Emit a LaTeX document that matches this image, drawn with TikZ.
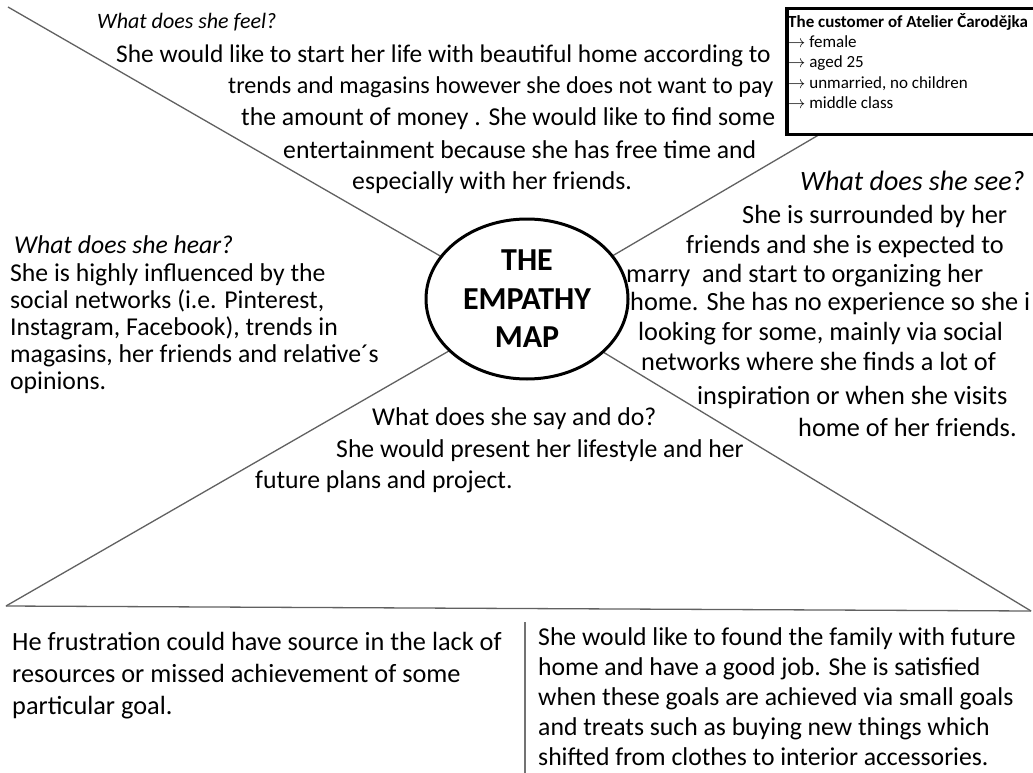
\documentclass[tikz,border=0pt]{standalone}
\usepackage{fontspec}
\setmainfont{Carlito}
\usetikzlibrary{shapes.geometric}
\newcommand\bodyfs{\fontsize{25.7}{30}\selectfont}
\newcommand\seefs{\fontsize{26.3}{30}\selectfont}
\newcommand\painfs{\fontsize{26.3}{30}\selectfont}
\newcommand\boxfs{\fontsize{17}{20}\selectfont}
\newcommand\mapfs{\fontsize{32}{38.5}\selectfont}
\begin{document}
\begin{tikzpicture}[x=1pt,y=-1pt,
  txt/.style={anchor=base west,inner sep=0pt,font=\bodyfs},
  ital/.style={anchor=base west,inner sep=0pt,font=\bodyfs\itshape},
  bx/.style={anchor=base west,inner sep=0pt,font=\boxfs},
  conn/.style={draw=black!62,line width=1.3pt}]
\useasboundingbox (0,0) rectangle (1033,773);
\clip (0,0) rectangle (1033,773);
\fill[white] (0,0) rectangle (1033,773);
% coordinates
\coordinate (hub) at (527,306);
\coordinate (tl) at (8,7);
\coordinate (tr) at (822,133);
\coordinate (bl) at (6,606);
\coordinate (br) at (1031,611);
\coordinate (vt) at (525,622);
\coordinate (vb) at (525,773);
% connectors
\draw[conn] (hub) -- (tl);
\draw[conn] (hub) -- (tr);
\draw[conn] (hub) -- (bl);
\draw[conn] (hub) -- (br);
\draw[conn] (bl) -- (br);
\draw[draw=black!55,line width=1.8pt] (vt) -- (vb);
% centre ellipse
\node[ellipse,draw,line width=3pt,fill=white,minimum width=202,minimum height=160,inner sep=0pt,
  font=\mapfs\bfseries,align=center] (em) at (527,299) {THE\\EMPATHY\\MAP};
% customer box
\node[draw,line width=3.5pt,fill=white,anchor=north west,minimum width=280,minimum height=126,inner sep=0pt] (cust) at (785,7) {};
\node[anchor=base west,inner sep=0pt,font=\fontsize{17}{20}\selectfont\bfseries] (c0) at (788,28) {The customer of Atelier Čarodějka};
\node[bx] (c1) at (788,48) {$\rightarrow$ female};
\node[bx] (c2) at (788,68) {$\rightarrow$ aged 25};
\node[bx] (c3) at (788,89) {$\rightarrow$ unmarried, no children};
\node[bx] (c4) at (788,109) {$\rightarrow$ middle class};
% feel
\node[ital,font=\fontsize{22}{26}\selectfont\itshape] (f0) at (97,29) {What does she feel?};
\node[txt,font=\fontsize{25.4}{30}\selectfont] (f1) at (116,63) {She would like to start her life with beautiful home according to};
\node[txt,font=\fontsize{24.2}{30}\selectfont] (f2) at (228,94) {trends and magasins however she does not want to pay};
\node[txt] (f3) at (241,126) {the amount of money . She would like to find some};
\node[txt] (f4) at (283,158) {entertainment because she has free time and};
\node[txt] (f5) at (352,189) {especially with her friends.};
% hear
\node[ital] (h0) at (14,253) {What does she hear?};
\node[txt] (h1) at (10,281) {She is highly influenced by the};
\node[txt] (h2) at (10,308) {social networks (i.e. Pinterest,};
\node[txt] (h3) at (10,335) {Instagram, Facebook), trends in};
\node[txt] (h4) at (10,362) {magasins, her friends and relative´s};
\node[txt] (h5) at (10,389) {opinions.};
% see
\node[ital,font=\fontsize{28}{30}\selectfont\itshape] (s0) at (800,190) {What does she see?};
\node[txt,font=\seefs] (s1) at (742,223) {She is surrounded by her};
\node[txt,font=\seefs] (s2) at (686,253) {friends and she is expected to};
\node[txt,font=\seefs] (s3) at (626,282) {marry\ \ and start to organizing her};
\node[txt,font=\seefs] (s4) at (630,310) {home. She has no experience so she i};
\node[txt,font=\seefs] (s5) at (638,340) {looking for some, mainly via social};
\node[txt,font=\seefs] (s6) at (641,370) {networks where she finds a lot of};
\node[txt,font=\seefs] (s7) at (697,404) {inspiration or when she visits};
\node[txt,font=\seefs] (s8) at (798,436) {home of her friends.};
% say
\node[txt] (y0) at (372,425) {What does she say and do?};
\node[txt] (y1) at (336,457) {She would present her lifestyle and her};
\node[txt] (y2) at (255,488) {future plans and project.};
% pains
\node[txt,font=\painfs] (p1) at (12,650) {He frustration could have source in the lack of};
\node[txt,font=\painfs] (p2) at (12,682) {resources or missed\ achievement of some};
\node[txt,font=\painfs] (p3) at (12,714) {particular goal.};
% gains
\node[txt] (g1) at (538,645) {She would like to found the family with future};
\node[txt] (g2) at (538,675) {home and have a good job. She is satisfied};
\node[txt] (g3) at (538,705) {when these goals are achieved via small goals};
\node[txt] (g4) at (538,735) {and treats such as buying new things which};
\node[txt] (g5) at (538,765) {shifted from clothes to interior accessories.};
\end{tikzpicture}
\end{document}
